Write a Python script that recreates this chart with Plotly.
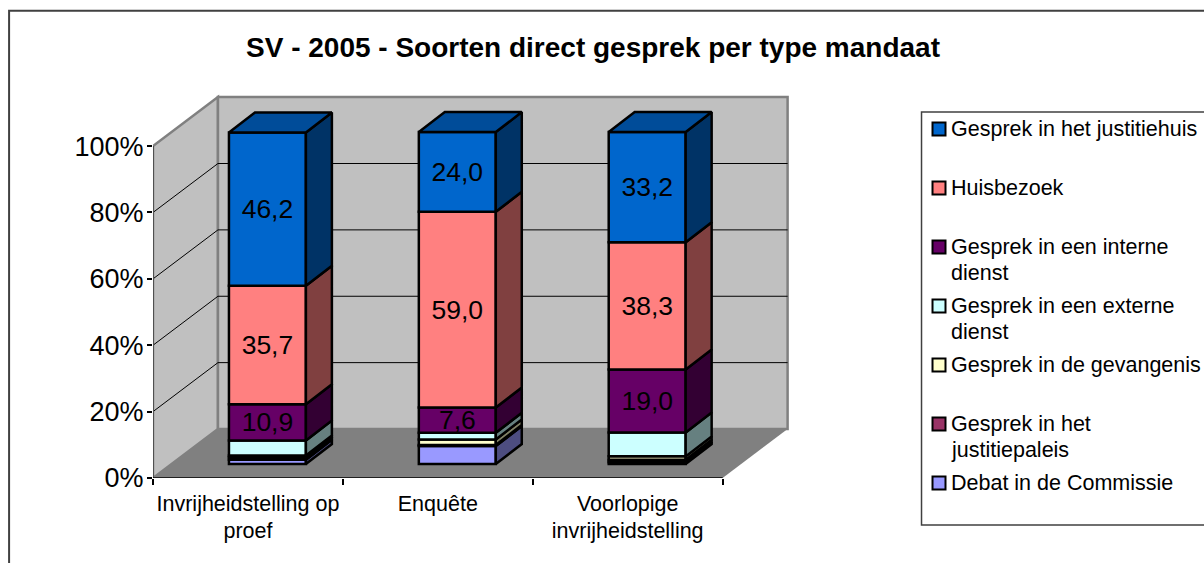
import numpy as np
import plotly.graph_objects as go

categories = ["Invrijheidstelling op<br>proef", "Enquête", "Voorlopige<br>invrijheidstelling"]
series_names = ["Debat in de Commissie", "Gesprek in het justitiepaleis", "Gesprek in de gevangenis",
                "Gesprek in een externe dienst", "Gesprek in een interne dienst", "Huisbezoek",
                "Gesprek in het justitiehuis"]
debat = [1.3, 5.4, 0.5]
paleis = [0.7, 0.3, 0.8]
gevangenis = [0.6, 1.7, 1.0]
extern = [4.5, 2.0, 7.2]
intern = [10.9, 7.6, 19.0]
huisbezoek = [35.7, 59.0, 38.3]
justitiehuis = [46.2, 24.0, 33.2]
values = [debat, paleis, gevangenis, extern, intern, huisbezoek, justitiehuis]
labelled = [False, False, False, False, True, True, True]
front_colors = ["#9999FF", "#993366", "#FFFFCC", "#CCFFFF", "#660066", "#FF8080", "#0066CC"]
side_colors = ["#4D4D80", "#4D1A33", "#808066", "#668080", "#330033", "#804040", "#003366"]
top_color = "#004C99"
y_ticks = [0, 20, 40, 60, 80, 100]

legend_lines = [
    ("Gesprek in het justitiehuis", "#0066CC", 129, ["Gesprek in het justitiehuis"]),
    ("Huisbezoek", "#FF8080", 188, ["Huisbezoek"]),
    ("Gesprek in een interne dienst", "#660066", 247, ["Gesprek in een interne", "dienst"]),
    ("Gesprek in een externe dienst", "#CCFFFF", 306, ["Gesprek in een externe", "dienst"]),
    ("Gesprek in de gevangenis", "#FFFFCC", 365, ["Gesprek in de gevangenis"]),
    ("Gesprek in het justitiepaleis", "#993366", 424, ["Gesprek in het", "justitiepaleis"]),
    ("Debat in de Commissie", "#9999FF", 483, ["Debat in de Commissie"]),
]

FONT = "Liberation Sans, Arial, sans-serif"
W, H = 1204, 563
# front plane: 1 category = 190 px, 1 % = 3.32 px
L, B = 153, 478
PX_X, PX_Y = 190.0, 3.32
WALL_DX, WALL_DY = 65 / PX_X, 49 / PX_Y
BAR_W = 77 / PX_X
BAR_FRONT_DX, BAR_FRONT_DY = 19.5 / PX_X, 14 / PX_Y
BAR_DX, BAR_DY = 26 / PX_X, 20 / PX_Y
XR = (0, 3.36)
YR = (0, 116)


def path(points):
    return "M " + " L ".join(f"{x:.4f} {y:.4f}" for x, y in points) + " Z"


shapes = []
shapes.append(dict(type="path", path=path([(0, 0), (WALL_DX, WALL_DY), (3 + WALL_DX, WALL_DY), (3, 0)]),
                   xref="x", yref="y", fillcolor="#808080", line=dict(width=0), layer="below"))
shapes.append(dict(type="path", path=path([(0, 0), (WALL_DX, WALL_DY), (WALL_DX, 100 + WALL_DY), (0, 100)]),
                   xref="x", yref="y", fillcolor="#C0C0C0", line=dict(color="#808080", width=2.5), layer="below"))
shapes.append(dict(type="path", path=path([(WALL_DX, WALL_DY), (3 + WALL_DX, WALL_DY), (3 + WALL_DX, 100 + WALL_DY), (WALL_DX, 100 + WALL_DY)]),
                   xref="x", yref="y", fillcolor="#C0C0C0", line=dict(color="#808080", width=2.5), layer="below"))
for t in y_ticks[1:-1]:
    shapes.append(dict(type="line", x0=0, y0=t, x1=WALL_DX, y1=t + WALL_DY, xref="x", yref="y",
                       line=dict(color="black", width=1), layer="below"))
    shapes.append(dict(type="line", x0=WALL_DX, y0=t + WALL_DY, x1=3 + WALL_DX, y1=t + WALL_DY, xref="x", yref="y",
                       line=dict(color="black", width=1), layer="below"))
shapes.append(dict(type="line", x0=0, y0=0, x1=0, y1=100, xref="x", yref="y", line=dict(color="#505050", width=2), layer="below"))
shapes.append(dict(type="line", x0=0, y0=0, x1=3, y1=0, xref="x", yref="y", line=dict(color="black", width=1.5), layer="below"))

fig = go.Figure()
centers = np.arange(len(categories)) + 0.5 + BAR_FRONT_DX
bottom = np.zeros(len(categories))
for name, vals, lab, fc, sc in zip(series_names, values, labelled, front_colors, side_colors):
    vals = np.array(vals)
    base = bottom + BAR_FRONT_DY
    fig.add_trace(go.Bar(
        x=centers, y=vals, base=base, width=BAR_W, name=name, showlegend=False,
        marker=dict(color=fc, line=dict(color="black", width=2.5)),
        text=[f"{v:.1f}".replace(".", ",") for v in vals] if lab else None,
        textposition="inside" if lab else None, insidetextanchor="middle", textangle=0,
        textfont=dict(family=FONT, size=26.5, color="black"), constraintext="none",
        cliponaxis=False, hoverinfo="skip",
    ))
    for c, b, v in zip(centers, base, vals):
        r = c + BAR_W / 2
        fig.add_trace(go.Scatter(
            x=[r, r + BAR_DX, r + BAR_DX, r, r], y=[b, b + BAR_DY, b + v + BAR_DY, b + v, b],
            mode="lines", fill="toself", fillcolor=sc, line=dict(color="black", width=2.5),
            showlegend=False, hoverinfo="skip"))
    bottom = bottom + vals
for c, t in zip(centers, bottom + BAR_FRONT_DY):
    l, r = c - BAR_W / 2, c + BAR_W / 2
    fig.add_trace(go.Scatter(
        x=[l, r, r + BAR_DX, l + BAR_DX, l], y=[t, t, t + BAR_DY, t + BAR_DY, t],
        mode="lines", fill="toself", fillcolor=top_color, line=dict(color="black", width=2.5),
        showlegend=False, hoverinfo="skip"))

to_px = lambda px, py: dict(x=(px - L) / (XR[1] * PX_X), y=(B - py) / (YR[1] * PX_Y), xref="paper", yref="paper")
annotations = [dict(text="<b>SV - 2005 - Soorten direct gesprek per type mandaat</b>", xanchor="center", yanchor="middle",
                    showarrow=False, font=dict(family=FONT, size=28, color="black"), **to_px(593.5, 47))]
shapes.append(dict(type="rect", xref="paper", yref="paper", line=dict(color="#404040", width=2),
                   x0=(9 - L) / (XR[1] * PX_X), x1=(1230 - L) / (XR[1] * PX_X),
                   y0=(B - 590) / (YR[1] * PX_Y), y1=(B - 10.5) / (YR[1] * PX_Y), layer="below"))
shapes.append(dict(type="rect", xref="paper", yref="paper", line=dict(color="#404040", width=1.5),
                   x0=(922 - L) / (XR[1] * PX_X), x1=(1230 - L) / (XR[1] * PX_X),
                   y0=(B - 525) / (YR[1] * PX_Y), y1=(B - 112) / (YR[1] * PX_Y), layer="below"))
for name, color, y, lines in legend_lines:
    shapes.append(dict(type="rect", xref="paper", yref="paper", fillcolor=color, line=dict(color="black", width=2),
                       x0=(933 - L) / (XR[1] * PX_X), x1=(946 - L) / (XR[1] * PX_X),
                       y0=(B - y - 6.5) / (YR[1] * PX_Y), y1=(B - y + 6.5) / (YR[1] * PX_Y)))
    for i, line in enumerate(lines):
        annotations.append(dict(text=line, showarrow=False, xanchor="left", yanchor="middle",
                                font=dict(family=FONT, size=21.5, color="black"), **to_px(949, y + i * 25.5)))

fig.update_layout(
    width=W, height=H, autosize=False, paper_bgcolor="white", plot_bgcolor="rgba(0,0,0,0)",
    margin=dict(l=L, r=W - L - XR[1] * PX_X, t=B - YR[1] * PX_Y, b=H - B, pad=0),
    barmode="overlay", showlegend=False, shapes=shapes, annotations=annotations,
    xaxis=dict(range=XR, tickmode="array", tickvals=[0.5, 1.5, 2.5], ticktext=categories, ticks="", showgrid=False,
               zeroline=False, showline=False, tickfont=dict(family=FONT, size=21.5, color="black"), ticklabelstandoff=10,
               minor=dict(tickmode="array", tickvals=[0, 1, 2, 3], ticks="outside", ticklen=6, tickcolor="black", tickwidth=1.5, showgrid=False)),
    yaxis=dict(range=YR, tickmode="array", tickvals=y_ticks, ticktext=[f"{t}%" for t in y_ticks], ticks="outside",
               ticklen=5, tickcolor="black", tickwidth=1.5, showgrid=False, zeroline=False, showline=False, ticklabelstandoff=-2,
               tickfont=dict(family=FONT, size=27, color="black")),
)
fig.write_html("out.html", config=dict(displayModeBar=False),
               post_script="document.body.style.margin='0';document.body.style.overflow='hidden';")
